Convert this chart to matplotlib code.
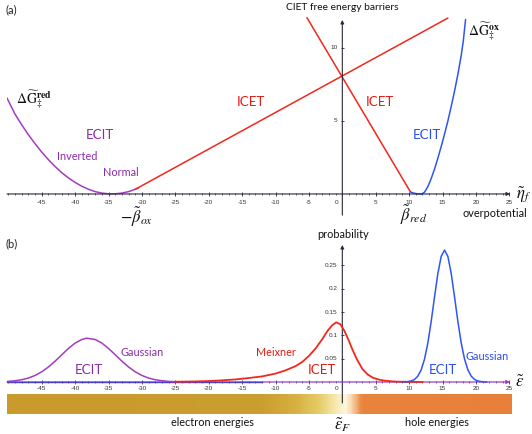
import numpy as np
import matplotlib
matplotlib.use("Agg")
import matplotlib.pyplot as plt
from matplotlib.colors import LinearSegmentedColormap

# ---------------- data ----------------
# (a) free energy barriers
ecit_red_x = [-50.2, -49, -48, -47, -46, -45, -44, -43, -42, -41, -40, -39, -38, -37,
              -36, -35, -34, -33, -32, -31, -30.5]
ecit_red_y = [6.57, 5.47, 4.74, 4.06, 3.44, 2.87, 2.35, 1.88, 1.46, 1.10, 0.79, 0.53,
              0.32, 0.16, 0.06, 0.01, 0.01, 0.06, 0.16, 0.32, 0.42]
icet_red_x = [-31.0, 15.8]
icet_red_y = [0.32, 12.05]
icet_ox_x = [-5.3, 10.2]
icet_ox_y = [12.08, 0.14]
ecit_ox_x = [10.2, 10.6, 11.0, 11.5, 11.9, 12.3, 12.8, 13.3, 13.8, 14.3, 14.8, 15.3, 15.8,
             16.3, 16.8, 17.3, 17.8, 18.1, 18.45]
ecit_ox_y = [0.14, 0.07, 0.03, 0.0, 0.0, 0.12, 0.5, 1.05, 1.7, 2.45, 3.25, 4.1, 5.0,
             6.0, 7.05, 8.2, 9.5, 10.45, 11.95]

# (b) probability distributions
gauss_red_x = [-50.2, -49, -48, -47, -46, -45, -44, -43, -42, -41, -40, -39, -38.3, -37,
               -36, -35, -34, -33, -32, -31, -30, -29, -28, -27, -26, -25]
gauss_red_y = [0.0012, 0.0026, 0.0048, 0.0084, 0.0140, 0.0219, 0.0322, 0.0447, 0.0584,
               0.0719, 0.0835, 0.0912, 0.094, 0.0912, 0.0835, 0.0719, 0.0584, 0.0447,
               0.0322, 0.0219, 0.0140, 0.0084, 0.0048, 0.0026, 0.0013, 0.0006]
meixner_x = [-25, -22, -20, -18, -16, -14, -12, -10, -8.5, -7, -6, -5, -4, -3, -2.2, -1.5,
             -0.9, -0.3, 0.3, 0.9, 1.5, 2.2, 3.0, 3.8, 4.6, 5.5, 6.5, 8, 10, 12]
meixner_y = [0.0005, 0.0012, 0.002, 0.0035, 0.0055, 0.0085, 0.012, 0.018, 0.025, 0.034,
             0.043, 0.056, 0.072, 0.092, 0.110, 0.122, 0.128, 0.124, 0.110, 0.091, 0.070,
             0.048, 0.028, 0.016, 0.009, 0.005, 0.0025, 0.0008, 0.0002, 0.0]
gauss_ox_x = [9.0, 9.3, 9.8, 10.3, 10.8, 11.3, 11.8, 12.3, 12.8, 13.3, 13.8, 14.3, 14.8,
              15.3, 15.8, 16.3, 16.8, 17.3, 17.8, 18.3, 18.8, 19.3, 19.8, 20.3, 20.8,
              21.3, 21.6]
gauss_ox_y = [0.0, 0.0002, 0.0008, 0.0021, 0.0054, 0.0124, 0.0259, 0.0488, 0.0835,
              0.1296, 0.1824, 0.2328, 0.2695, 0.283, 0.2695, 0.2328, 0.1824, 0.1296,
              0.0835, 0.0488, 0.0259, 0.0124, 0.0054, 0.0021, 0.0008, 0.0002, 0.0]

xticks_major = [-45, -40, -35, -30, -25, -20, -15, -10, -5, 0, 5, 10, 15, 20, 25]
yticks_a = [5, 10]
yticks_b = [0.05, 0.1, 0.15, 0.2, 0.25]

# ---------------- style ----------------
W, H = 532, 434
plt.rcParams['font.family'] = ['Lato', 'DejaVu Sans']
plt.rcParams['mathtext.fontset'] = 'stix'

PURPLE = '#A23DBE'
PURPLE_T = '#8A2CA8'
RED = '#F0281C'
RED_T = '#E01A14'
BLUE = '#2F55F2'
BLUE_T = '#2A4CEB'
AX = '#2a2a3a'
TICKFONT = dict(family=['Liberation Sans', 'DejaVu Sans'], fontsize=4.6, color='#333333')

fig = plt.figure(figsize=(W / 100, H / 100), dpi=100)

def fp(x, y):
    return x / W, 1 - y / H

XMIN, XMAX = -50.2, 25.4

# ---------------- panel (a) ----------------
ax1 = fig.add_axes([7 / W, 1 - 222 / H, 505 / W, 207 / H])
ax1.set_xlim(XMIN, XMAX)
ax1.set_ylim(-1.92, 12.26)
ax1.axis('off')

ax1.annotate('', xy=(25.1, 0), xytext=(XMIN, 0),
             arrowprops=dict(arrowstyle='-|>', color=AX, lw=0.8, mutation_scale=5,
                             shrinkA=0, shrinkB=0))
ax1.annotate('', xy=(0, 11.92), xytext=(0, -1.45),
             arrowprops=dict(arrowstyle='-|>', color=AX, lw=0.8, mutation_scale=5,
                             shrinkA=0, shrinkB=0))
minor = np.arange(-50, 26, 1)
ax1.vlines(minor, -0.09, 0.09, color=AX, lw=0.5)
ax1.vlines(xticks_major, -0.16, 0.16, color=AX, lw=0.6)
for t in xticks_major:
    xx = t - 0.9 if t == 0 else t
    ax1.text(xx, -0.55, f'{t}', ha='center', va='center', **TICKFONT)
ax1.hlines(yticks_a, -0.25, 0.25, color=AX, lw=0.6)
for t in yticks_a:
    ax1.text(-0.7, t, f'{t}', ha='right', va='center', **TICKFONT)

ax1.plot(ecit_red_x, ecit_red_y, color=PURPLE, lw=1.1, solid_capstyle='round')
ax1.plot(icet_red_x, icet_red_y, color=RED, lw=1.1, solid_capstyle='round')
ax1.plot(icet_ox_x, icet_ox_y, color=RED, lw=1.1, solid_capstyle='round')
ax1.plot(ecit_ox_x, ecit_ox_y, color=BLUE, lw=1.1, solid_capstyle='round')

# ---------------- panel (b) ----------------
ax2 = fig.add_axes([7 / W, 1 - 416 / H, 505 / W, 176 / H])
ax2.set_xlim(XMIN, XMAX)
ax2.set_ylim(-0.073, 0.3047)
ax2.axis('off')

stops = [(-50.2, '#C99A2C'), (-12.0, '#CB9E30'), (-7.0, '#D6B040'), (-3.5, '#E6CB68'),
         (-1.2, '#F4E6A6'), (0.6, '#FFF8E0'), (1.6, '#F6CFA6'), (3.0, '#E8843C'),
         (25.4, '#E8803A')]
pos = [(s - stops[0][0]) / (stops[-1][0] - stops[0][0]) for s, _ in stops]
cmap = LinearSegmentedColormap.from_list('bar', list(zip(pos, [c for _, c in stops])))
grad = np.linspace(0, 1, 600)[None, :]
ax2.imshow(grad, extent=[XMIN, 25.3, -0.0687, -0.0258], aspect='auto', cmap=cmap,
           interpolation='bilinear', zorder=0)

ax2.annotate('', xy=(0, 0.294), xytext=(0, -0.045),
             arrowprops=dict(arrowstyle='-|>', color=AX, lw=0.8, mutation_scale=5,
                             shrinkA=0, shrinkB=0), zorder=3)
ax2.annotate('', xy=(25.1, 0), xytext=(XMIN, 0),
             arrowprops=dict(arrowstyle='-|>', color=PURPLE, lw=0.9, mutation_scale=5,
                             shrinkA=0, shrinkB=0), zorder=2)
ax2.plot([XMIN, -12], [0, 0], color='#4a3fd0', lw=1.0, zorder=2)
ax2.vlines(minor, -0.0025, 0.0025, color='#4a3fa0', lw=0.5, zorder=3)
ax2.vlines(xticks_major, -0.0045, 0.0045, color='#4a3fa0', lw=0.6, zorder=3)
for t in xticks_major:
    xx = t - 0.9 if t == 0 else t
    ax2.text(xx, -0.0145, f'{t}', ha='center', va='center', **TICKFONT)
ax2.hlines(yticks_b, -0.25, 0.25, color=AX, lw=0.6)
for t in yticks_b:
    ax2.text(-0.7, t, f'{t:g}', ha='right', va='center', **TICKFONT)

ax2.plot(gauss_red_x, gauss_red_y, color=PURPLE, lw=1.1, zorder=4)
ax2.plot(meixner_x, meixner_y, color=RED, lw=1.3, zorder=4)
ax2.plot(gauss_ox_x, gauss_ox_y, color=BLUE, lw=1.1, zorder=4)

# ---------------- texts ----------------
T = dict(ha='center', va='center')
BIG = 9.6
SM = 7.8
fig.text(*fp(5, 10), '(a)', ha='left', va='center', fontsize=8, color='#222222')
fig.text(*fp(5, 244), '(b)', ha='left', va='center', fontsize=8, color='#222222')
fig.text(*fp(342, 7), 'CIET free energy barriers', fontsize=7.4, color='#111111', **T)
fig.text(*fp(16, 99), r'$\Delta\widetilde{\mathrm{G}}_{\ddag}^{\mathbf{red}}$',
         ha='left', va='center', fontsize=10, color='#111111')
fig.text(*fp(468, 31), r'$\Delta\widetilde{\mathrm{G}}_{\ddag}^{\mathbf{ox}}$',
         ha='left', va='center', fontsize=10, color='#111111')
fig.text(*fp(100, 135), 'ECIT', fontsize=BIG, color=PURPLE_T, **T)
fig.text(*fp(77, 157), 'Inverted', fontsize=SM, color=PURPLE_T, **T)
fig.text(*fp(121, 173), 'Normal', fontsize=SM, color=PURPLE_T, **T)
fig.text(*fp(251, 102), 'ICET', fontsize=BIG, color=RED_T, **T)
fig.text(*fp(380, 102), 'ICET', fontsize=BIG, color=RED_T, **T)
fig.text(*fp(427, 135), 'ECIT', fontsize=BIG, color=BLUE_T, **T)
fig.text(*fp(516, 194), r'$\tilde{\eta}_f$', ha='left', va='center', fontsize=12,
         color='#111111')
fig.text(*fp(137, 217), r'$-\tilde{\beta}_{ox}$', fontsize=12, color='#111111', **T)
fig.text(*fp(414, 215), r'$\tilde{\beta}_{red}$', fontsize=12, color='#111111', **T)
fig.text(*fp(495, 213), 'overpotential', fontsize=SM, color='#111111', **T)

fig.text(*fp(343, 234), 'probability', fontsize=SM, color='#111111', **T)
fig.text(*fp(89, 370), 'ECIT', fontsize=BIG, color=PURPLE_T, **T)
fig.text(*fp(142, 352), 'Gaussian', fontsize=SM, color=PURPLE_T, **T)
fig.text(*fp(276, 352), 'Meixner', fontsize=SM, color=RED_T, **T)
fig.text(*fp(322, 370), 'ICET', fontsize=BIG, color=RED_T, **T)
fig.text(*fp(443, 370), 'ECIT', fontsize=BIG, color=BLUE_T, **T)
fig.text(*fp(487, 357), 'Gaussian', fontsize=SM, color=BLUE_T, **T)
fig.text(*fp(515, 382), r'$\tilde{\epsilon}$', ha='left', va='center', fontsize=12,
         color='#111111')
fig.text(*fp(212, 423), 'electron energies', fontsize=SM, color='#111111', **T)
fig.text(*fp(437, 423), 'hole energies', fontsize=SM, color='#111111', **T)
fig.text(*fp(343, 425), r'$\tilde{\epsilon}_F$', fontsize=12, color='#111111', **T)

fig.savefig('out.png', dpi=100)
